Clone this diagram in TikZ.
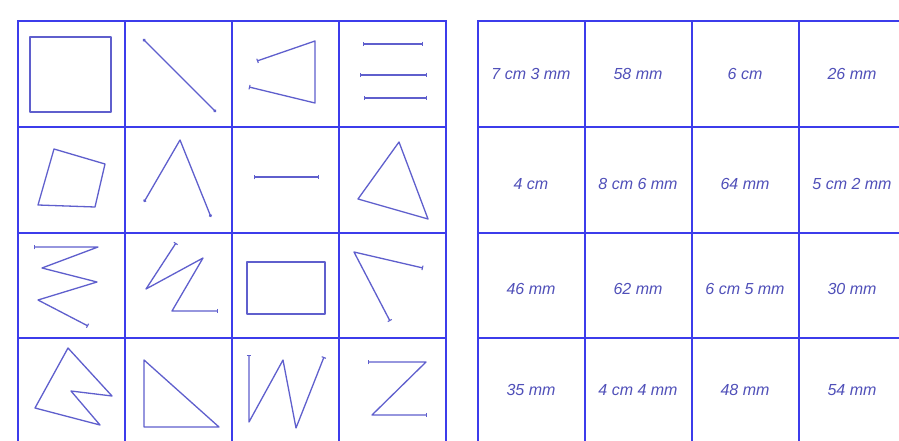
\documentclass[tikz,border=0pt]{standalone}
\usepackage{fontspec}
\setmainfont{Liberation Sans}
\usetikzlibrary{arrows.meta}
\definecolor{gridc}{RGB}{60,60,235}
\definecolor{shapec}{RGB}{95,95,205}
\definecolor{textc}{RGB}{80,80,185}
\tikzset{
  gridline/.style={draw=gridc,line width=1.9pt},
  figline/.style={draw=shapec,line width=1.3pt,line join=round},
  segline/.style={figline,{Bar[width=4.5pt,line width=1.1pt]}-{Bar[width=4.5pt,line width=1.1pt]}},
  dotline/.style={figline,{Circle[length=3pt]}-{Circle[length=3pt]}},
  lbl/.style={text=textc,font=\fontsize{16}{18}\selectfont\itshape,inner sep=0pt}
}
\begin{document}
\begin{tikzpicture}[x=1pt,y=-1pt]
\useasboundingbox (0,0) rectangle (899,441);
\fill[white] (0,0) rectangle (899,441);
% left grid
\foreach \x in {18,125,232,339,446} \draw[gridline] (\x,21) -- (\x,445);
\foreach \y in {21,127,233,338} \draw[gridline] (17.1,\y) -- (446.9,\y);
% right grid
\foreach \x in {478,585,692,799} \draw[gridline] (\x,21) -- (\x,445);
\foreach \y in {21,127,233,338} \draw[gridline] (477.1,\y) -- (905,\y);
% row 1
\draw[figline] (30,37) rectangle (111,112);
\draw[dotline] (143,39) -- (216,112);
\draw[segline] (257,61) -- (315,41) -- (315,103) -- (249,87);
\draw[segline] (363,44) -- (423,44);
\draw[segline] (360,75) -- (427,75);
\draw[segline] (364,98) -- (427,98);
% row 2
\draw[figline] (54,149) -- (105,164) -- (95,207) -- (38,205) -- cycle;
\draw[dotline] (144,202) -- (180,140) -- (211,217);
\draw[segline] (254,177) -- (319,177);
\draw[figline] (399,142) -- (428,219) -- (358,199) -- cycle;
% row 3
\draw[segline] (34,247) -- (98,247) -- (42,268) -- (97,282) -- (38,300) -- (88,326);
\draw[segline] (176,243) -- (146,289) -- (203,258) -- (172,311) -- (218,311);
\draw[figline] (247,262) rectangle (325,314);
\draw[segline] (423,268) -- (354,252) -- (390,321);
% row 4
\draw[figline] (68,348) -- (112,396) -- (71,391) -- (100,425) -- (35,408) -- cycle;
\draw[figline] (144,360) -- (144,427) -- (219,427) -- cycle;
\draw[segline] (249,355) -- (249,422) -- (283,360) -- (296,428) -- (324,357);
\draw[segline] (368,362) -- (426,362) -- (372,415) -- (427,415);
% labels
\node[lbl] (t11) at (531,74) {7 cm 3 mm};
\node[lbl] (t12) at (638,74) {58 mm};
\node[lbl] (t13) at (745,74) {6 cm};
\node[lbl] (t14) at (852,74) {26 mm};
\node[lbl] (t21) at (531,184) {4 cm};
\node[lbl] (t22) at (638,184) {8 cm 6 mm};
\node[lbl] (t23) at (745,184) {64 mm};
\node[lbl] (t24) at (852,184) {5 cm 2 mm};
\node[lbl] (t31) at (531,289) {46 mm};
\node[lbl] (t32) at (638,289) {62 mm};
\node[lbl] (t33) at (745,289) {6 cm 5 mm};
\node[lbl] (t34) at (852,289) {30 mm};
\node[lbl] (t41) at (531,390) {35 mm};
\node[lbl] (t42) at (638,390) {4 cm 4 mm};
\node[lbl] (t43) at (745,390) {48 mm};
\node[lbl] (t44) at (852,390) {54 mm};
\end{tikzpicture}
\end{document}
